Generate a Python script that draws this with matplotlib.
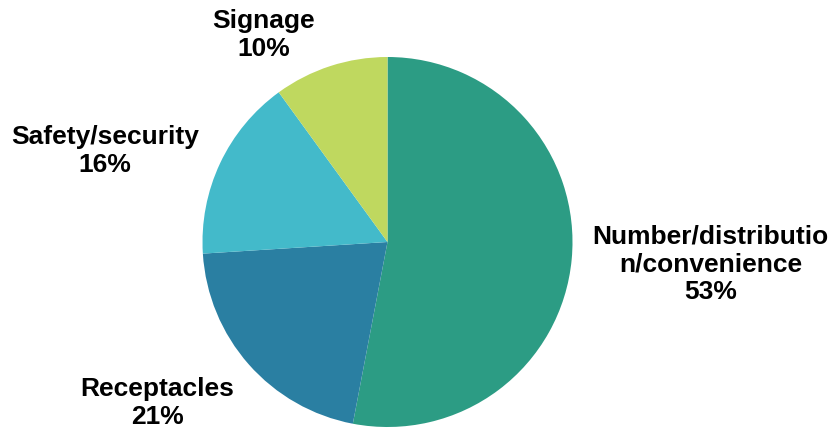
import matplotlib
matplotlib.use("Agg")
import matplotlib.pyplot as plt

plt.rcParams['font.family'] = ['Liberation Sans', 'DejaVu Sans']

categories = ['Number/distributio\nn/convenience', 'Receptacles', 'Safety/security', 'Signage']
shares = [53, 21, 16, 10]
colours = ['#2C9C84', '#2A7FA2', '#43BACA', '#BFD85F']

# label anchors (pie radius = 1)
label_xy = [(1.745, -0.12), (-1.245, -0.87), (-1.527, 0.49), (-0.67, 1.12)]

fig = plt.figure(figsize=(8.32, 4.29), dpi=100)
R = 185
cx, cy = 387.5, 242
W, H = 832, 429
ax = fig.add_axes([(cx - R) / W, (H - cy - R) / H, 2 * R / W, 2 * R / H])
ax.pie(shares, colors=colours, startangle=90, counterclock=False,
       radius=1, wedgeprops=dict(linewidth=0))
ax.set_xlim(-1, 1)
ax.set_ylim(-1, 1)
ax.set_aspect('equal')

for name, val, (x, y) in zip(categories, shares, label_xy):
    ax.text(x, y, f'{name}\n{val}%', ha='center', va='center',
            fontsize=19, fontweight='bold', linespacing=1.22,
            clip_on=False)

fig.savefig('out.png', dpi=100)
